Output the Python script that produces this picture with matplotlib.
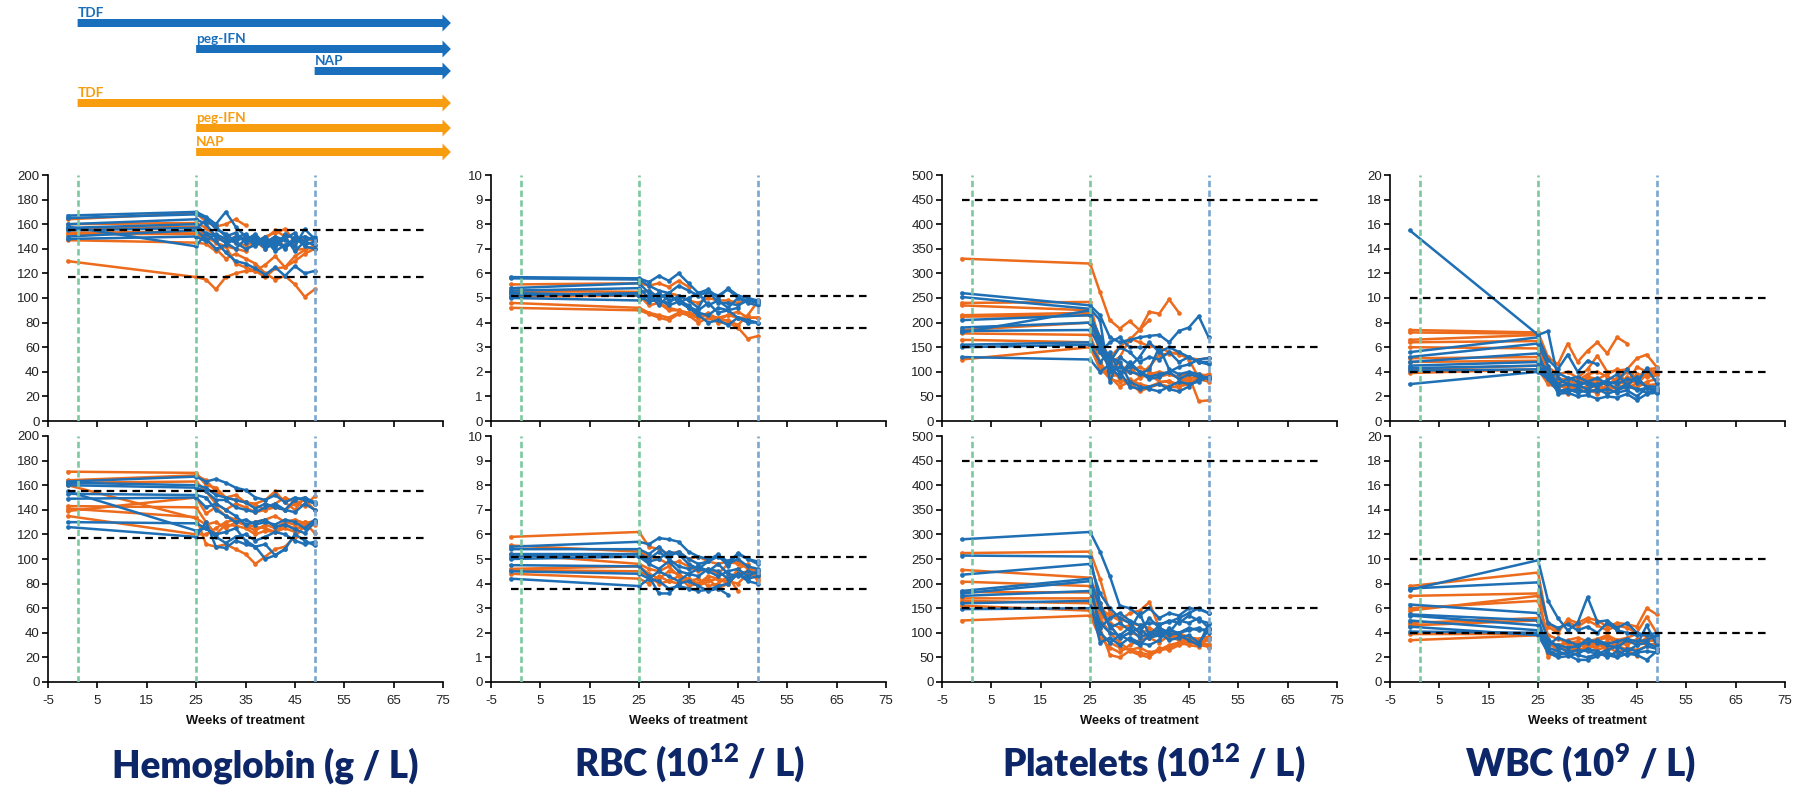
import numpy as np
import matplotlib
matplotlib.use("Agg")
import matplotlib.pyplot as plt
from matplotlib.patches import FancyArrow

# ---------------------------------------------------------------- data
WEEKS = [-1, 25, 27, 29, 31, 33, 35, 37, 39, 41, 43, 45, 47, 49]
X_TICKS = [-5, 5, 15, 25, 35, 45, 55, 65, 75]
PHASE_WEEKS = [1, 25]          # start of TDF, start of peg-IFN
END_WEEK = 49                  # end of combination phase
REF_SPAN = [-1, 72]

HB_TOP_BLUE = [
    [167, 170, 166, 160, 170, 158, 150, 148, 145, 150, 147, 142, 156, 148],
    [165, 168, 165, 156, 152, 146, 150, 142, 148, 140, 152, 148, 143, 146],
    [160, 164, 160, 150, 145, 140, 148, 150, 142, 146, 140, 150, 146, 143],
    [157, 160, 152, 146, 137, 130, 128, 124, 119, 125, 118, 126, 120, 122],
    [155, 157, 163, 158, 150, 153, 145, 148, 140, 145, 150, 138, 146, 150],
    [150, 155, 148, 140, 143, 149, 152, 145, 150, 142, 148, 153, 142, 140],
    [148, 150, 146, 152, 148, 145, 140, 143, 148, 138, 143, 147, 150, 147],
    [158, 142, 153, 150, 145, 150, 147, 152, 143, 148, 141, 146, None, None],
]
HB_TOP_ORANGE = [
    [164, 169, 162, 158, 160, 164, 159, None, None, None, None, None, None, None],
    [160, 161, 157, 150, 146, 150, 148, 145, 150, 153, 156, 146, 148, 147],
    [156, 158, 150, 145, 142, 140, 138, 146, 140, 148, 142, 145, 150, 146],
    [152, 152, 148, 140, 132, 136, 132, 128, 120, 115, 118, 111, 101, 107],
    [147, 145, 144, 138, 142, 128, 125, 122, 117, 124, 125, 130, 136, 140],
    [153, 154, 150, 146, 150, 145, 143, 146, 148, 155, 150, 139, 140, 141],
    [130, 117, 115, 107, 117, 120, 122, 122, 127, 134, 125, 134, 139, 143],
]
HB_BOT_BLUE = [
    [163, 167, 163, 165, 162, 158, 156, 150, 148, 152, 146, 150, 148, 145],
    [162, 160, 158, 152, 150, 148, 146, 141, 145, 142, 140, 148, 150, 146],
    [160, 158, 155, 148, 148, 142, 140, 138, 142, 145, 140, 138, 145, 140],
    [153, 152, 150, 140, 135, 130, 132, 128, 130, 128, 132, 130, 125, 132],
    [149, 150, 142, 145, 140, 135, 128, 130, 132, 126, 128, 124, 121, 130],
    [130, 129, 125, 120, 122, 125, 115, 110, 112, 103, 108, 120, 115, 111],
    [126, 118, 130, 110, 109, 115, 112, 110, 100, 103, 108, None, None, None],
    [155, 123, 125, 118, 113, 118, 120, 115, 118, 122, 120, 115, 112, 114],
]
HB_BOT_ORANGE = [
    [171, 170, 160, 158, 150, 148, 146, 144, 140, 145, 150, 146, 143, 151],
    [164, 168, 164, 155, 150, 152, 146, 145, 148, 155, 146, 140, 150, 145],
    [162, 163, 155, 145, 140, 145, 142, 138, 140, 142, 140, 145, 148, 140],
    [160, 133, 128, 130, 125, 130, 128, 130, 132, 135, 130, 128, 130, 129],
    [143, 142, 130, 120, 128, 127, 125, 120, 123, 122, 125, 122, 130, 121],
    [141, 134, 112, 110, 112, 108, 104, 96, 102, 108, 110, 118, 127, 130],
    [139, 150, 137, 142, 135, 132, 128, 126, 125, 122, 128, 125, 126, 128],
    [135, 120, 120, 125, 130, 132, 127, 123, 128, 125, 130, 132, 129, 131],
]

RBC_TOP_BLUE = [
    [5.85, 5.8, 5.65, 5.9, 5.7, 6.0, 5.6, 5.2, 5.35, 5.0, 5.4, 5.1, 5.0, 4.9],
    [5.8, 5.75, 5.5, 5.3, 5.2, 5.5, 5.3, 5.1, 5.25, 5.1, 5.35, 5.0, 4.9, 4.85],
    [5.4, 5.6, 5.2, 4.7, 5.1, 4.9, 4.7, 4.4, 4.3, 4.6, 4.5, 4.2, 4.1, 4.0],
    [5.3, 5.4, 5.0, 5.2, 4.9, 5.0, 4.6, 4.3, 4.0, 4.1, 3.9, 4.2, 4.0, 4.0],
    [5.1, 5.2, 5.3, 5.0, 5.2, 4.8, 5.0, 5.2, 4.7, 4.9, 4.6, 5.0, 4.8, 4.7],
    [5.0, 4.9, 5.1, 4.9, 4.8, 5.1, 4.9, 4.6, 5.3, 4.8, 4.8, 4.7, 4.9, 4.8],
    [5.2, 5.1, 4.85, 4.95, 4.7, 4.85, 4.6, 4.5, 4.8, 4.4, 4.5, 4.6, None, None],
]
RBC_TOP_ORANGE = [
    [5.55, 5.6, 5.5, 5.6, 5.45, 5.7, 5.45, None, None, None, None, None, None, None],
    [5.3, 5.25, 5.3, 5.0, 5.2, 5.1, 4.9, 4.8, 5.0, 4.9, 4.9, 4.8, 4.9, 4.9],
    [5.2, 5.15, 5.0, 4.8, 4.6, 4.5, 4.4, 4.3, 4.3, 4.2, 4.3, 4.2, 4.2, 4.2],
    [5.05, 5.1, 4.7, 4.8, 4.5, 4.5, 4.3, 4.2, 4.3, 4.1, 4.3, 4.45, 4.2, 4.2],
    [4.8, 4.6, 4.4, 4.3, 4.2, 4.4, 4.3, 4.0, 4.2, 4.0, 4.0, 3.8, 3.35, 3.45],
    [4.6, 4.5, 4.35, 4.2, 4.1, 4.35, 4.4, 4.2, 4.4, 4.1, 4.1, 3.9, 4.3, 4.85],
]
RBC_BOT_BLUE = [
    [5.5, 5.7, 5.6, 5.85, 5.8, 5.7, 5.3, 5.1, 5.0, 5.15, 4.9, 5.2, 5.0, 4.8],
    [5.4, 5.4, 5.2, 5.5, 5.1, 5.3, 5.0, 4.8, 4.9, 5.1, 4.8, 5.0, 4.7, 4.6],
    [5.2, 5.2, 5.0, 5.3, 5.0, 4.7, 4.6, 4.7, 4.5, 4.8, 4.4, 4.3, 4.5, 4.4],
    [5.0, 5.1, 4.8, 4.6, 4.9, 4.5, 4.4, 4.3, 4.6, 4.5, 4.2, 4.4, 4.2, 4.3],
    [4.75, 4.7, 4.3, 3.6, 3.6, 4.0, 4.1, 3.9, 3.7, 3.8, 3.55, None, None, None],
    [4.5, 4.4, 4.2, 4.1, 3.8, 3.9, 3.8, 3.7, 3.75, 3.9, 4.0, 4.4, 4.1, 4.0],
    [4.2, 3.9, 4.2, 4.5, 4.3, 4.1, 4.4, 4.6, 4.5, 4.3, 4.5, 4.6, 4.3, 4.5],
    [5.1, 5.2, 4.9, 5.0, 5.3, 5.2, 4.8, 4.6, 4.9, 5.2, 4.7, 5.25, 5.0, 4.9],
]
RBC_BOT_ORANGE = [
    [5.9, 6.1, 5.5, 5.4, 5.2, 5.3, 5.0, 5.1, 4.9, 4.8, 4.9, 4.8, 4.7, 4.5],
    [5.55, 5.3, 5.1, 5.0, 4.8, 4.9, 4.7, 4.5, 4.6, 4.4, 4.8, 4.9, 4.6, 4.4],
    [5.2, 4.8, 4.6, 4.5, 4.7, 4.3, 4.2, 4.0, 4.3, 4.2, 4.1, 4.0, 4.4, 4.2],
    [4.6, 4.7, 4.4, 4.2, 4.5, 4.4, 4.1, 4.2, 3.9, 4.0, 4.3, 3.7, None, None],
    [4.55, 4.5, 4.3, 4.0, 4.1, 4.3, 3.9, 4.0, 4.2, 3.8, 4.0, 4.4, 4.5, 4.3],
    [4.4, 4.2, 4.0, 4.3, 4.1, 4.0, 4.2, 3.9, 4.1, 4.2, 4.0, 4.6, 4.8, 4.1],
]

PLT_TOP_BLUE = [
    [260, 235, 215, 170, 160, 165, 170, 173, 175, 160, 183, 190, 213, 170],
    [252, 228, 205, 80, 130, 115, 100, 90, 95, 100, 85, 95, 90, 88],
    [205, 215, 170, 120, 150, 140, 120, 130, 125, 140, 120, 130, 120, 115],
    [190, 200, 160, 100, 110, 100, 95, 105, 150, 105, 95, 100, 95, 85],
    [183, 185, 150, 130, 120, 80, 70, 65, 60, 70, 80, 75, 80, 90],
    [155, 160, 140, 110, 90, 120, 100, 85, 90, 100, 110, 115, 125, 128],
    [150, 155, 120, 140, 95, 110, 130, 160, 140, 150, 140, 130, 120, 120],
    [130, 125, 100, 115, 100, 70, 65, 70, 75, 65, 60, 70, 85, 88],
    [180, 225, 140, 160, 170, 150, 150, None, None, None, None, None, None, None],
]
PLT_TOP_ORANGE = [
    [330, 320, 262, 205, 188, 203, 185, 222, 218, 247, 220, None, None, None],
    [240, 242, 150, 118, 130, 165, 185, 205, None, None, None, None, None, None],
    [235, 225, 160, 130, 150, 168, 160, 152, 150, 140, 135, 128, 125, 128],
    [215, 220, 170, 120, 100, 110, 90, 95, 100, 95, 90, 98, 95, 92],
    [212, 215, 155, 130, 115, 100, 95, 110, 135, 137, 140, 125, 88, 90],
    [185, 200, 140, 110, 85, 75, 88, 95, 80, 80, 75, 92, 40, 42],
    [178, 175, 120, 90, 70, 80, 60, 68, 75, 70, 68, 85, 92, 85],
    [165, 160, 110, 85, 80, 85, 75, 70, 78, 82, 70, 75, 90, 95],
    [125, 150, 105, 90, 95, 100, 110, 100, 90, 95, 88, 80, 85, 80],
]
PLT_BOT_BLUE = [
    [290, 305, 265, 215, 155, 150, 135, 150, 130, 140, 135, 150, 148, 140],
    [257, 255, 160, 110, 120, 105, 140, 95, 115, 125, 120, 135, 125, 120],
    [218, 240, 180, 150, 130, 120, 100, 130, 110, 100, 125, 120, 130, 110],
    [185, 210, 150, 115, 90, 100, 110, 90, 95, 105, 100, 110, 105, 108],
    [180, 205, 100, 80, 95, 85, 75, 95, 100, 85, 90, 95, 80, 105],
    [175, 185, 120, 100, 95, 110, 90, 100, 105, 95, 100, 105, 110, 100],
    [160, 165, 80, 90, 75, 90, 80, 75, 85, 110, 95, 85, 75, 118],
    [148, 150, 110, 130, 140, 125, 115, 120, 118, 122, 130, 140, 150, 140],
]
PLT_BOT_ORANGE = [
    [262, 265, 210, 140, 130, 120, 115, 110, 100, 95, 90, 85, 80, 88],
    [228, 212, 160, 120, 110, 115, 100, 105, 95, 100, 95, 90, 85, 92],
    [204, 195, 140, 115, 90, 100, 95, 90, 98, 92, 85, 80, 78, 85],
    [183, 182, 130, 100, 80, 65, 70, 60, 65, 75, 80, 75, 72, 78],
    [170, 170, 150, 135, 125, 140, 145, 162, 110, 100, 95, 85, 82, 75],
    [165, 160, 110, 55, 50, 63, 55, 50, 70, 65, 75, 80, 85, 70],
    [155, 145, 100, 80, 70, 65, 60, 55, 63, 70, 80, 85, 75, 72],
    [125, 135, 90, 70, 60, 75, 85, 90, 80, 95, 100, 90, 88, 92],
]

WBC_TOP_BLUE = [
    [15.5, 7.0, 7.3, 3.5, 3.0, 2.8, 3.2, 2.9, 3.1, 2.6, 3.0, 2.5, 2.7, 2.6],
    [5.6, 6.8, 5.0, 4.2, 5.4, 4.0, 4.9, 4.6, None, None, None, None, None, None],
    [5.2, 6.3, 4.5, 2.2, 2.3, 2.0, 2.1, 1.8, 2.0, 1.9, 2.2, 1.7, 2.2, 2.3],
    [4.8, 5.5, 3.5, 2.5, 2.4, 2.6, 2.3, 2.6, 2.2, 2.5, 2.8, 2.6, 2.3, 2.5],
    [4.5, 4.8, 4.2, 3.0, 3.4, 3.6, 3.2, 3.5, 3.0, 3.2, 4.2, 3.1, 4.3, 3.1],
    [4.3, 4.5, 3.8, 2.8, 3.0, 2.9, 2.6, 3.0, 3.3, 3.8, 2.9, 3.6, 2.7, 2.4],
    [4.1, 4.2, 3.6, 3.9, 3.5, 3.2, 3.0, 2.8, 3.2, 3.0, 3.4, 3.3, 2.8, 2.8],
    [3.0, 4.0, 3.4, 2.4, 2.6, 2.3, 2.5, 2.4, 2.6, 2.3, 2.5, 2.0, 2.7, 2.3],
]
WBC_TOP_ORANGE = [
    [7.4, 7.2, 5.2, 4.6, 6.3, 4.8, 5.7, 6.4, 5.5, 6.8, 6.3, None, None, None],
    [7.2, 7.1, 4.4, 3.8, 4.0, 3.5, 4.2, 5.3, 4.0, 4.1, 4.2, 5.1, 5.4, 4.4],
    [6.6, 7.0, 4.0, 3.5, 3.3, 3.0, 3.6, 3.4, 3.8, 4.2, 3.0, 4.4, 4.0, 4.1],
    [6.4, 6.5, 3.6, 3.0, 2.8, 2.6, 2.8, 2.2, 3.0, 3.3, 2.9, 3.4, 3.8, 4.0],
    [6.0, 5.9, 3.8, 2.5, 2.2, 3.0, 3.4, 3.0, 2.5, 2.8, 3.6, 3.0, 3.8, 3.8],
    [5.1, 5.2, 3.4, 3.2, 3.5, 3.3, 3.8, 4.0, 3.6, 3.3, 4.0, 3.5, 4.2, 4.3],
    [4.8, 4.9, 4.0, 3.3, 3.0, 2.8, 3.4, 3.3, 2.9, 3.5, 3.2, 3.8, 3.6, 3.7],
    [4.2, 4.5, 3.2, 2.9, 2.6, 3.0, 2.5, 2.3, 2.8, 2.6, 3.0, 2.7, 3.2, 3.4],
    [3.9, 4.2, 3.0, 2.7, 3.1, 2.4, 2.9, 2.7, 2.5, 2.9, 2.6, 3.1, 2.9, 3.0],
]
WBC_BOT_BLUE = [
    [7.5, 9.9, 6.6, 5.2, 4.2, 4.8, 6.9, 4.9, 5.0, 4.4, 4.8, 4.0, 3.8, 4.0],
    [7.6, 8.1, 4.8, 4.4, 4.7, 4.2, 4.5, 4.0, 4.8, 4.2, 4.0, 3.8, 3.9, 3.6],
    [6.3, 5.6, 3.5, 2.8, 2.5, 2.2, 2.0, 2.3, 2.2, 2.0, 2.3, 2.2, 1.8, 2.5],
    [5.5, 5.0, 2.8, 2.5, 2.2, 1.8, 1.8, 2.1, 2.4, 2.1, 2.7, 2.5, 2.9, 2.7],
    [5.4, 4.6, 3.2, 3.0, 2.8, 2.9, 3.5, 3.2, 3.0, 2.8, 3.4, 3.0, 3.2, 2.8],
    [5.0, 4.2, 2.6, 2.2, 2.4, 2.6, 2.5, 2.3, 2.6, 2.9, 2.5, 3.0, 4.6, 3.0],
    [4.5, 3.8, 2.4, 2.0, 2.1, 2.3, 2.7, 2.5, 2.0, 2.5, 2.2, 2.4, 2.5, 2.4],
    [4.1, 4.0, 3.0, 3.6, 3.3, 3.0, 3.2, 3.4, 3.1, 3.3, 3.5, 3.3, 3.4, 3.8],
]
WBC_BOT_ORANGE = [
    [7.8, 8.9, 4.5, 4.0, 5.1, 4.8, 5.2, 5.0, 4.5, 4.8, 4.7, 4.5, 6.0, 5.5],
    [7.0, 7.2, 4.8, 4.2, 4.9, 4.5, 5.0, 4.6, 4.2, 4.6, 4.4, 4.0, 5.3, 4.0],
    [6.0, 6.6, 3.8, 3.5, 3.2, 3.3, 3.0, 3.4, 3.6, 3.2, 3.4, 3.1, 3.6, 3.7],
    [5.8, 7.0, 3.2, 2.6, 2.9, 2.4, 3.0, 3.1, 2.8, 3.2, 3.0, 3.5, 3.3, 3.4],
    [4.8, 5.2, 2.0, 2.8, 3.2, 2.6, 2.8, 3.2, 2.5, 3.0, 2.6, 2.1, None, None],
    [4.6, 5.0, 2.5, 2.2, 2.5, 2.8, 3.2, 2.6, 2.9, 2.4, 2.8, 2.6, 2.9, 3.2],
    [3.9, 3.9, 3.0, 2.9, 3.4, 3.6, 3.3, 3.5, 3.8, 3.4, 3.6, 3.9, 3.7, 3.3],
    [3.4, 3.8, 3.3, 3.0, 2.7, 3.1, 2.8, 2.9, 3.3, 3.0, 3.2, 3.4, 3.0, 3.1],
]

TITLES = ["Hemoglobin (g / L)", "RBC (10$^{12}$ / L)",
          "Platelets (10$^{12}$ / L)", "WBC (10$^{9}$ / L)"]
Y_MAX = [200, 10, 500, 20]
Y_STEP = [20, 1, 50, 2]
REF_LIMITS = [(155, 117), (5.1, 3.8), (450, 150), (10, 4)]

BLUE_ARROWS = [("TDF", 1), ("peg-IFN", 25), ("NAP", 49)]
ORANGE_ARROWS = [("TDF", 1), ("peg-IFN", 25), ("NAP", 25)]
ARROW_END = 76.6

# ---------------------------------------------------------------- style
plt.rcParams["font.family"] = ["Liberation Sans", "DejaVu Sans"]
plt.rcParams["axes.unicode_minus"] = False
plt.rcParams["mathtext.fontset"] = "custom"
plt.rcParams["mathtext.bf"] = "Lato:heavy"
plt.rcParams["mathtext.rm"] = "Lato:heavy"
plt.rcParams["mathtext.default"] = "bf"

BLUE = "#1f6fb5"
ORANGE = "#ec6b1c"
GREEN_V = "#7cc9a0"
BLUE_V = "#7ba6cf"
ARROW_BLUE = "#1a6fbd"
ARROW_ORANGE = "#f89d10"
NAVY = "#0d2667"

FIG_W, FIG_H = 1801, 791
fig = plt.figure(figsize=(FIG_W / 100, FIG_H / 100), dpi=100)


def px_axes(left, top, width, height):
    return fig.add_axes([left / FIG_W, 1 - (top + height) / FIG_H,
                         width / FIG_W, height / FIG_H])


PANEL_LEFT = [48, 491, 942, 1390]
PANEL_W = 395
ROW_TOP = [175, 436]
ROW_H = 246
TITLE_X = [265, 689, 1154, 1580]

GROUPS = [
    [(HB_TOP_ORANGE, HB_TOP_BLUE), (HB_BOT_ORANGE, HB_BOT_BLUE)],
    [(RBC_TOP_ORANGE, RBC_TOP_BLUE), (RBC_BOT_ORANGE, RBC_BOT_BLUE)],
    [(PLT_TOP_ORANGE, PLT_TOP_BLUE), (PLT_BOT_ORANGE, PLT_BOT_BLUE)],
    [(WBC_TOP_ORANGE, WBC_TOP_BLUE), (WBC_BOT_ORANGE, WBC_BOT_BLUE)],
]

weeks = np.array(WEEKS, dtype=float)

for col in range(4):
    for row in range(2):
        ax = px_axes(PANEL_LEFT[col], ROW_TOP[row], PANEL_W, ROW_H)
        orange_set, blue_set = GROUPS[col][row]
        for series, color in ((orange_set, ORANGE), (blue_set, BLUE)):
            for values in series:
                y = np.array(values, dtype=float)
                ax.plot(weeks, y, color=color, lw=1.8, marker="o", ms=3.3,
                        mew=0, zorder=2, clip_on=False)

        for wk in PHASE_WEEKS:
            ax.axvline(wk, color=GREEN_V, lw=1.9, dashes=(2.4, 1.3), zorder=3)
        ax.axvline(END_WEEK, color=BLUE_V, lw=1.9, dashes=(2.4, 1.3), zorder=3)
        for lim in REF_LIMITS[col]:
            ax.plot(REF_SPAN, [lim, lim], color="black", lw=1.6,
                    dashes=(3.4, 2.4), zorder=4)

        ax.set_xlim(-5, 75)
        ax.set_ylim(0, Y_MAX[col])
        ax.set_xticks(X_TICKS)
        ax.set_yticks(np.arange(0, Y_MAX[col] + Y_STEP[col] / 2, Y_STEP[col]))
        for side in ("top", "right"):
            ax.spines[side].set_visible(False)
        for side in ("left", "bottom"):
            ax.spines[side].set_linewidth(1.2)
            ax.spines[side].set_color("black")
        ax.tick_params(direction="out", length=4, width=1.2, labelsize=9.5,
                       labelcolor="#222222", pad=2)
        ax.tick_params(axis="x", pad=5)
        if row == 0:
            ax.tick_params(axis="x", labelbottom=False)
        else:
            fig.text((PANEL_LEFT[col] + PANEL_W / 2) / FIG_W, 1 - 721 / FIG_H,
                     "Weeks of treatment", ha="center", va="center",
                     fontsize=9.3, fontweight="bold", color="#111111")

    fig.text(TITLE_X[col] / FIG_W, 1 - 777 / FIG_H, TITLES[col],
             ha="center", va="baseline", fontsize=26.5, color=NAVY,
             family="Lato", fontweight="heavy")

# ---------------------------------------------------------------- treatment arrows
arr_ax = px_axes(PANEL_LEFT[0], 0, PANEL_W, 170)
arr_ax.set_xlim(-5, 75)
arr_ax.set_ylim(170, 0)
arr_ax.axis("off")

ARROW_ROWS = [(BLUE_ARROWS, ARROW_BLUE, [23, 49, 71]),
              (ORANGE_ARROWS, ARROW_ORANGE, [103, 128, 152])]
for arrows, color, rows in ARROW_ROWS:
    for (label, start), yc in zip(arrows, rows):
        arr_ax.add_patch(FancyArrow(start, yc, ARROW_END - start, 0,
                                    width=8, head_width=17, head_length=1.7,
                                    length_includes_head=True, color=color,
                                    lw=0, clip_on=False))
        arr_ax.text(start, yc - 6, label, ha="left", va="baseline",
                    fontsize=9.8, fontweight="bold", color=color,
                    family="Lato", clip_on=False)

fig.savefig("out.png", dpi=100, facecolor="white")
